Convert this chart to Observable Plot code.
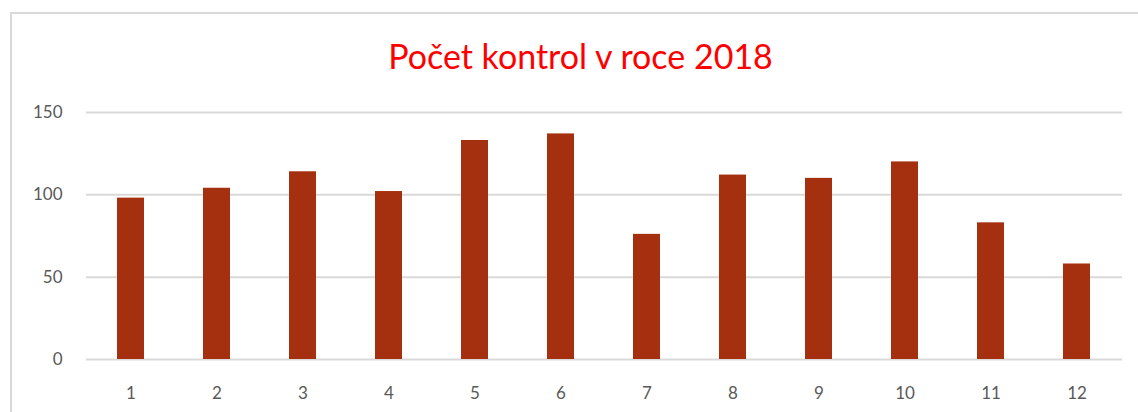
<!DOCTYPE html>
<html>
<head>
<meta charset="utf-8">
<script src="https://cdn.jsdelivr.net/npm/d3@7"></script>
<script src="https://cdn.jsdelivr.net/npm/@observablehq/plot@0.6"></script>
<style>
  html, body { margin: 0; padding: 0; background: #fff; }
  #wrap { position: relative; width: 1138px; height: 412px; overflow: hidden; font-family: Lato, "Open Sans", sans-serif; }
  #frame { position: absolute; left: 10px; top: 12px; width: 1160px; height: 440px; border: 2px solid #d9d9d9; box-sizing: border-box; }
  #title { position: absolute; left: 0; top: 0; width: 1161px; height: 90px; text-align: center; line-height: 112px; font-size: 34px; color: #ff0000; font-family: Lato, "Open Sans", sans-serif; }
  #chart { position: absolute; left: 0; top: 90px; }
</style>
</head>
<body>
<div id="wrap">
  <div id="frame"></div>
  <div id="title">Počet kontrol v roce 2018</div>
  <div id="chart"></div>
</div>
<script>
const months = ["1","2","3","4","5","6","7","8","9","10","11","12"];
const counts = [98, 104, 114, 102, 133, 137, 76, 112, 110, 120, 83, 58];
const yTicks = [0, 50, 100, 150];

const data = months.map((m, i) => ({month: m, count: counts[i]}));

const plot = Plot.plot({
  width: 1138,
  height: 322,
  marginLeft: 86,
  marginRight: 16,
  marginTop: 22,
  marginBottom: 53,
  style: {fontFamily: "Lato, 'Open Sans', sans-serif", fontSize: "17px", color: "#595959", background: "transparent"},
  x: {domain: months, paddingInner: 0.683, paddingOuter: 0.3415, label: null, tickSize: 0, tickPadding: 27},
  y: {domain: [0, 150], ticks: yTicks, label: null, tickSize: 0, tickPadding: 24, grid: false},
  marks: [
    Plot.ruleY(yTicks, {stroke: "#d9d9d9", strokeWidth: 2}),
    Plot.barY(data, {x: "month", y: "count", fill: "#a5300f"})
  ]
});
document.getElementById("chart").appendChild(plot);
</script>
</body>
</html>
